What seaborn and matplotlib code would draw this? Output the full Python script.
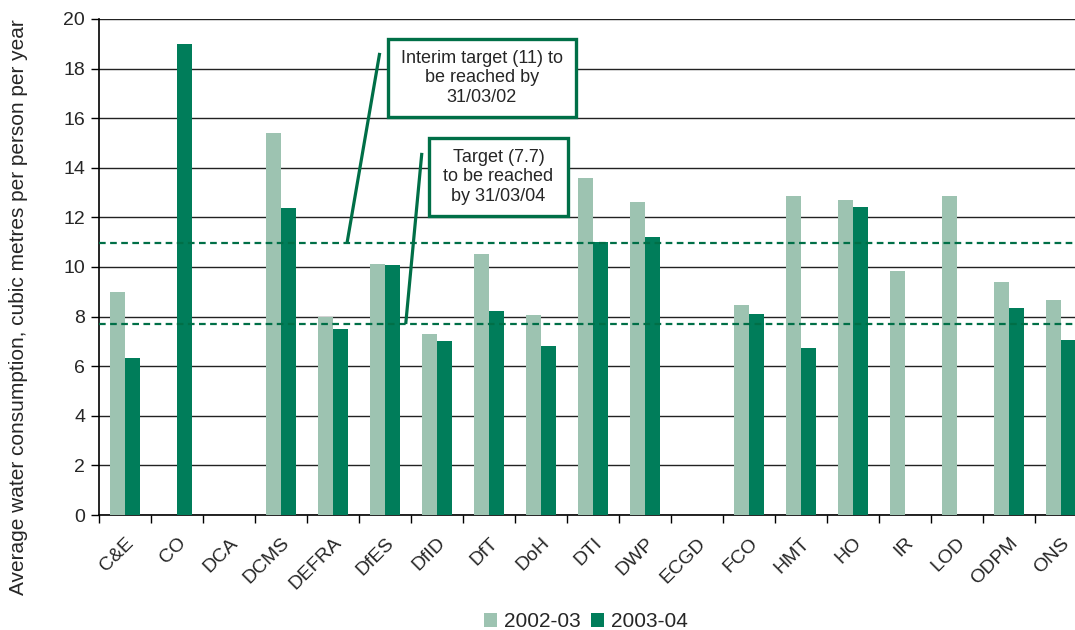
import numpy as np
import pandas as pd
import matplotlib
matplotlib.use("Agg")
import matplotlib.pyplot as plt
from matplotlib.patches import Rectangle
import seaborn as sns

categories = ["C&E", "CO", "DCA", "DCMS", "DEFRA", "DfES", "DfID", "DfT", "DoH", "DTI",
              "DWP", "ECGD", "FCO", "HMT", "HO", "IR", "LOD", "ODPM", "ONS"]
vals_2002 = [9.0, np.nan, np.nan, 15.4, 7.98, 10.12, 7.3, 10.53, 8.05, 13.6,
             12.6, np.nan, 8.45, 12.85, 12.7, 9.85, 12.87, 9.4, 8.65]
vals_2003 = [6.33, 19.0, np.nan, 12.38, 7.5, 10.07, 7.0, 8.22, 6.8, 11.0,
             11.2, np.nan, 8.1, 6.75, 12.42, np.nan, np.nan, 8.35, 7.05]
series = ["2002-03", "2003-04"]
interim_target = 10.95
final_target = 7.7
y_ticks = list(range(0, 21, 2))

light = "#9dc3b1"
dark = "#007d5a"
box_green = "#006f47"

df = pd.DataFrame({
    "dept": categories * 2,
    "period": [series[0]] * len(categories) + [series[1]] * len(categories),
    "value": vals_2002 + vals_2003,
})

sns.set_theme(style="white")
plt.rcParams["font.family"] = ["Liberation Sans", "DejaVu Sans"]

fig = plt.figure(figsize=(10.75, 6.3), dpi=100)
ax = fig.add_axes([0.092, 0.1825, 0.908, 0.7875])

sns.barplot(data=df.dropna(), x="dept", y="value", hue="period", order=categories,
            hue_order=series, palette=[light, dark], width=0.58, gap=0,
            errorbar=None, saturation=1, ax=ax, zorder=3, legend=True, linewidth=0)

ax.set_yticks(y_ticks)
ax.set_yticklabels([str(t) for t in y_ticks], fontsize=14)
ax.yaxis.grid(True, color="#222222", linewidth=1.0, zorder=0)
ax.set_axisbelow(True)

ax.set_xticks(range(len(categories)))
ax.set_xticklabels(categories, rotation=45, ha="right", rotation_mode="anchor", fontsize=14)
ax.set_xticks(np.arange(-0.5, len(categories), 1.0), minor=True)
ax.tick_params(axis="x", which="major", length=0, pad=14)
ax.tick_params(axis="x", which="minor", length=6, width=1, color="black", direction="out", bottom=True)
ax.tick_params(axis="y", which="major", length=6, width=1, color="black", direction="out", left=True, pad=4)

ax.set_ylim(0, 20)
ax.set_xlim(-0.5, 18.27)

for s in ["top", "right"]:
    ax.spines[s].set_visible(False)
for s in ["left", "bottom"]:
    ax.spines[s].set_color("black")
    ax.spines[s].set_linewidth(1.2)

ax.set_xlabel("")
ax.set_ylabel("Average water consumption, cubic metres per person per year", fontsize=15)
ax.yaxis.set_label_coords(-0.0725, 0.42)

ax.axhline(interim_target, color=box_green, linestyle=(0, (3, 2)), linewidth=1.6, zorder=4)
ax.axhline(final_target, color=box_green, linestyle=(0, (3, 2)), linewidth=1.6, zorder=4)

ax.plot([4.90, 4.27], [18.63, interim_target], color=box_green, lw=2.3, zorder=5, solid_capstyle="butt")
ax.plot([5.71, 5.40], [14.6, final_target], color=box_green, lw=2.3, zorder=5, solid_capstyle="butt")

ax.add_patch(Rectangle((5.06, 16.05), 3.61, 3.14, fc="white", ec=box_green, lw=2.4, zorder=6))
ax.add_patch(Rectangle((5.85, 12.06), 2.67, 3.14, fc="white", ec=box_green, lw=2.4, zorder=6))
ax.text(6.865, 17.62, "Interim target (11) to\nbe reached by\n31/03/02", ha="center", va="center",
        fontsize=13, linespacing=1.2, zorder=7)
ax.text(7.185, 13.63, "Target (7.7)\nto be reached\nby 31/03/04", ha="center", va="center",
        fontsize=13, linespacing=1.2, zorder=7)

handles, labels = ax.get_legend_handles_labels()
ax.get_legend().remove()
fig.legend(handles, labels, loc="center", bbox_to_anchor=(0.545, 0.013), ncol=2, frameon=False,
           fontsize=15, handlelength=0.6, handleheight=0.6, handletextpad=0.34, columnspacing=0.5)

fig.savefig("out.png", dpi=100)
